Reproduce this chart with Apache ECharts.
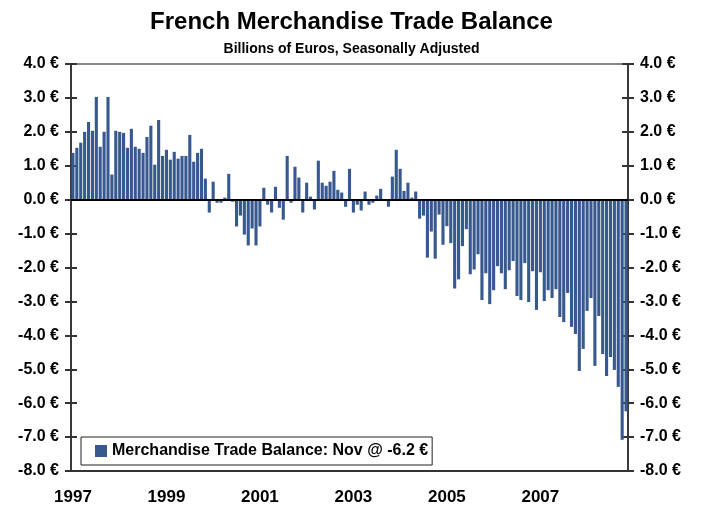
<!DOCTYPE html>
<html>
<head>
<meta charset="utf-8">
<script src="https://cdn.jsdelivr.net/npm/echarts@6/dist/echarts.min.js"></script>
<style>
  html, body { margin: 0; padding: 0; background: #fff; }
  #chart { width: 703px; height: 506px; }
</style>
</head>
<body>
<div id="chart"></div>
<script>
// monthly balance, billions of euros
const years = [1997, 1998, 1999, 2000, 2001, 2002, 2003, 2004, 2005, 2006, 2007, 2008];
const bal1997 = [1.38, 1.53, 1.68, 2.0, 2.29, 2.03, 3.03, 1.56, 2.0, 3.03, 0.74, 2.03];
const bal1998 = [2.0, 1.97, 1.53, 2.09, 1.56, 1.50, 1.38, 1.85, 2.18, 1.03, 2.35, 1.29];
const bal1999 = [1.47, 1.18, 1.41, 1.21, 1.29, 1.29, 1.91, 1.12, 1.38, 1.5, 0.62, -0.38];
const bal2000 = [0.53, -0.09, -0.09, 0.06, 0.76, -0.06, -0.79, -0.47, -1.03, -1.35, -0.85, -1.35];
const bal2001 = [-0.79, 0.35, -0.15, -0.38, 0.38, -0.24, -0.59, 1.29, -0.09, 0.97, 0.65, -0.38];
const bal2002 = [0.5, 0.09, -0.29, 1.15, 0.5, 0.41, 0.53, 0.85, 0.29, 0.21, -0.21, 0.91];
const bal2003 = [-0.38, -0.15, -0.32, 0.24, -0.15, -0.09, 0.12, 0.32, 0.02, -0.21, 0.68, 1.47];
const bal2004 = [0.91, 0.26, 0.5, 0.06, 0.24, -0.56, -0.47, -1.71, -0.94, -1.74, -0.44, -1.33];
const bal2005 = [-0.78, -1.28, -2.62, -2.35, -1.37, -0.87, -2.2, -2.06, -1.61, -2.96, -2.17, -3.08];
const bal2006 = [-2.67, -1.96, -2.17, -2.64, -2.08, -1.81, -2.84, -2.96, -1.87, -3.02, -2.11, -3.25];
const bal2007 = [-2.14, -2.99, -2.67, -2.9, -2.64, -3.46, -3.61, -2.75, -3.75, -3.96, -5.05, -4.40];
const bal2008 = [-3.28, -2.9, -4.9, -3.43, -4.55, -5.2, -4.64, -5.02, -5.52, -7.08, -6.24];
const yTicks = [-8, -7, -6, -5, -4, -3, -2, -1, 0, 1, 2, 3, 4];

const values = [].concat(bal1997, bal1998, bal1999, bal2000, bal2001, bal2002,
  bal2003, bal2004, bal2005, bal2006, bal2007, bal2008);
let months = [];
years.forEach(y => {
  for (let m = 1; m <= 12; m++) months.push(y + '-' + (m < 10 ? '0' + m : m));
});
months = months.slice(0, values.length);

const font = 'Liberation Sans';
const yFmt = v => v.toFixed(1) + ' €';

function yAx(pos, inside, labels) {
  return {
    type: 'value', position: pos,
    min: yTicks[0], max: yTicks[yTicks.length - 1], interval: 1,
    axisLine: { show: !inside, lineStyle: { color: '#3a3a3a', width: 2 } },
    axisTick: { show: true, inside: inside, length: 6, lineStyle: { color: '#333', width: 2 } },
    axisLabel: { show: labels, formatter: yFmt, color: '#000', fontFamily: font,
      fontWeight: 'bold', fontSize: 16, margin: 12 },
    splitLine: { show: false }
  };
}

const chart = echarts.init(document.getElementById('chart'));
chart.setOption({
  animation: false,
  title: {
    text: 'French Merchandise Trade Balance',
    subtext: 'Billions of Euros, Seasonally Adjusted',
    left: 'center', top: 5, itemGap: 8,
    textStyle: { fontFamily: font, fontWeight: 'bold', fontSize: 24, color: '#000' },
    subtextStyle: { fontFamily: font, fontWeight: 'bold', fontSize: 14, color: '#000' }
  },
  grid: { left: 71, right: 75, top: 64, bottom: 34 },
  legend: {
    left: 81, top: 437,
    padding: [6, 4, 6, 14],
    itemWidth: 12, itemHeight: 12,
    icon: 'rect',
    backgroundColor: '#fff', borderColor: '#222', borderWidth: 1,
    textStyle: { fontFamily: font, fontWeight: 'bold', fontSize: 16, color: '#000' },
    data: ['Merchandise Trade Balance: Nov @ -6.2 €']
  },
  xAxis: [
    {
      type: 'category', position: 'bottom', data: months,
      axisLine: { onZero: false, lineStyle: { color: '#333', width: 2 } },
      axisTick: { interval: i => i % 12 === 0, length: 5, lineStyle: { color: '#333', width: 2 } },
      axisLabel: { interval: i => i % 24 === 0, formatter: v => v.slice(0, 4),
        color: '#000', fontFamily: font, fontWeight: 'bold', fontSize: 17, margin: 18 }
    },
    {
      type: 'category', position: 'top', data: months,
      axisLine: { onZero: false, lineStyle: { color: '#888', width: 2 } },
      axisTick: { show: false }, axisLabel: { show: false }
    },
    {
      type: 'category', position: 'bottom', data: months,
      axisLine: { show: false, onZero: false },
      axisTick: { inside: true, interval: i => i % 12 === 0, length: 5, lineStyle: { color: '#333', width: 2 } },
      axisLabel: { show: false }
    }
  ],
  yAxis: [yAx('left', false, true), yAx('right', false, true), yAx('left', true, false), yAx('right', true, false)],
  series: [{
    name: 'Merchandise Trade Balance: Nov @ -6.2 €',
    type: 'bar',
    data: values,
    barCategoryGap: '20%',
    itemStyle: { color: '#38598f' },
    markLine: {
      silent: true, symbol: 'none', label: { show: false },
      lineStyle: { color: '#000', width: 2, type: 'solid' },
      data: [{ yAxis: 0 }]
    }
  }]
});
</script>
</body>
</html>
